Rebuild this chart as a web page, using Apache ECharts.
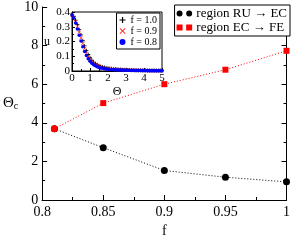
<!DOCTYPE html>
<html><head><meta charset="utf-8">
<script src="https://cdn.jsdelivr.net/npm/echarts@6/dist/echarts.min.js"></script>
<style>html,body{margin:0;padding:0;background:#fff}#c{width:293px;height:243px}</style>
</head><body><div id="c"></div>
<script>
// Main chart data
const fValues = [0.81, 0.85, 0.9, 0.95, 1.0];
const ruToEc = [3.69, 2.71, 1.53, 1.18, 0.94];
const ecToFe = [3.69, 5.02, 6.0, 6.75, 7.73];

// Inset data (Theta from 0 to 5, step 0.1)
const theta = [0,0.1,0.2,0.3,0.4,0.5,0.6,0.7,0.8,0.9,1.0,1.1,1.2,1.3,1.4,1.5,1.6,1.7,1.8,1.9,2.0,2.1,2.2,2.3,2.4,2.5,2.6,2.7,2.8,2.9,3.0,3.1,3.2,3.3,3.4,3.5,3.6,3.7,3.8,3.9,4.0,4.1,4.2,4.3,4.4,4.5,4.6,4.7,4.8,4.9,5.0];
const uF10 = [0.38,0.37,0.345,0.315,0.28,0.245,0.205,0.17,0.138,0.112,0.09,0.073,0.06,0.05,0.042,0.036,0.031,0.027,0.024,0.021,0.019,0.017,0.015,0.014,0.013,0.012,0.011,0.010,0.009,0.0085,0.008,0.0075,0.007,0.0065,0.006,0.0055,0.005,0.0048,0.0045,0.0042,0.004,0.0038,0.0036,0.0034,0.0032,0.003,0.0029,0.0028,0.0027,0.0026,0.0025];
const uF09 = [0.38,0.365,0.335,0.3,0.262,0.225,0.186,0.152,0.122,0.098,0.078,0.063,0.051,0.042,0.035,0.03,0.026,0.022,0.019,0.017,0.015,0.013,0.012,0.011,0.010,0.009,0.0085,0.008,0.0075,0.007,0.0065,0.006,0.0055,0.005,0.0047,0.0044,0.0041,0.0038,0.0036,0.0034,0.0032,0.003,0.0028,0.0027,0.0026,0.0025,0.0024,0.0023,0.0022,0.0021,0.002];
const uF08 = [0.38,0.36,0.325,0.285,0.243,0.203,0.165,0.132,0.105,0.083,0.066,0.053,0.043,0.035,0.029,0.024,0.021,0.018,0.016,0.014,0.012,0.011,0.010,0.009,0.008,0.0075,0.007,0.0065,0.006,0.0055,0.005,0.0047,0.0044,0.0041,0.0038,0.0036,0.0034,0.0032,0.003,0.0028,0.0027,0.0026,0.0025,0.0024,0.0023,0.0022,0.0021,0.002,0.0019,0.0018,0.0017];

const xTickLabels = ['0.8','0.85','0.9','0.95','1'];

const serif = '"Liberation Serif","DejaVu Serif",serif';
const pair = a => fValues.map((f,i)=>[f,a[i]]);
const pairT = a => theta.map((t,i)=>[t,a[i]]);
const plus = 'path://M4,0h2v4h4v2h-4v4h-2v-4h-4v-2h4z';
const cross = 'path://M1,0L5,4L9,0L10,1L6,5L10,9L9,10L5,6L1,10L0,9L4,5L0,1z';

const chart = echarts.init(document.getElementById('c'), null, {renderer:'canvas'});
const axisCommon = {
  axisLine:{show:true,onZero:false,lineStyle:{color:'#000',width:1}},
  splitLine:{show:false}
};
chart.setOption({
  animation:false,
  backgroundColor:'#fff',
  textStyle:{fontFamily:serif,color:'#000'},
  grid:[
    {left:35,right:4,top:6,bottom:34,show:false},
    {left:72,right:131,top:12,bottom:172,show:true,backgroundColor:'#fff',borderColor:'#000',borderWidth:1}
  ],
  xAxis:[
    Object.assign({},axisCommon,{gridIndex:0,type:'value',min:0.8,max:1,interval:0.05,
      axisTick:{inside:true,length:5,lineStyle:{color:'#000'}},
      minorTick:{show:true,splitNumber:2,length:3,lineStyle:{color:'#000'}},
      axisLabel:{fontSize:14,fontFamily:serif,color:'#000',margin:5,
        formatter:(v)=>{const i=Math.round((v-0.8)/0.05);return xTickLabels[i]!==undefined?xTickLabels[i]:'';}},
      name:'f',nameLocation:'middle',nameGap:24,nameTextStyle:{fontSize:14,fontFamily:serif,color:'#000'}}),
    {gridIndex:0,type:'value',min:0.8,max:1,position:'top',axisLine:{show:true,lineStyle:{color:'#000'}},axisTick:{show:false},axisLabel:{show:false},splitLine:{show:false}},
    Object.assign({},axisCommon,{gridIndex:1,type:'value',min:0,max:5,interval:1,
      axisTick:{inside:true,length:3,lineStyle:{color:'#000'}},
      minorTick:{show:true,splitNumber:2,length:2,lineStyle:{color:'#000'}},
      axisLabel:{fontSize:11,fontFamily:serif,color:'#000',margin:2},
      name:'Θ',nameLocation:'middle',nameGap:15,nameTextStyle:{fontSize:12,fontFamily:serif,color:'#000'}})
  ],
  yAxis:[
    Object.assign({},axisCommon,{gridIndex:0,type:'value',min:0,max:10,interval:2,
      axisTick:{inside:true,length:5,lineStyle:{color:'#000'}},
      minorTick:{show:true,splitNumber:2,length:3,lineStyle:{color:'#000'}},
      axisLabel:{fontSize:14,fontFamily:serif,color:'#000',margin:4},
      name:'{a|Θ}{b|c}',nameLocation:'middle',nameGap:20,nameRotate:0,
      nameTextStyle:{rich:{a:{fontSize:15,fontFamily:serif,color:'#000'},b:{fontSize:10,fontFamily:serif,color:'#000',verticalAlign:'bottom',padding:[6,0,0,0]}}}}),
    {gridIndex:0,type:'value',min:0,max:10,interval:2,position:'right',
      axisLine:{show:true,lineStyle:{color:'#000'}},
      axisTick:{inside:true,length:5,lineStyle:{color:'#000'}},
      minorTick:{show:true,splitNumber:2,length:3,lineStyle:{color:'#000'}},
      axisLabel:{show:false},splitLine:{show:false}},
    Object.assign({},axisCommon,{gridIndex:1,type:'value',min:0,max:0.4,interval:0.1,
      axisTick:{inside:true,length:3,lineStyle:{color:'#000'}},
      minorTick:{show:true,splitNumber:2,length:2,lineStyle:{color:'#000'}},
      axisLabel:{fontSize:11,fontFamily:serif,color:'#000',margin:2,formatter:v=>v===0?'0':String(+v.toFixed(1))},
      name:'u',nameLocation:'middle',nameGap:22,nameRotate:0,nameTextStyle:{fontSize:12,fontFamily:serif,color:'#000'}})
  ],
  legend:[
    {right:3,top:5,orient:'vertical',itemGap:1,itemWidth:18,itemHeight:6,
     backgroundColor:'#fff',borderColor:'#000',borderWidth:1,borderRadius:0,padding:[2,3,2,2],
     textStyle:{fontSize:13,fontFamily:serif,color:'#000',padding:[0,0,0,-2]},
     data:[
       {name:'region RU → EC',icon:'path://M0,5a5,5 0 1,0 10,0a5,5 0 1,0 -10,0zM16,5a5,5 0 1,0 10,0a5,5 0 1,0 -10,0z'},
       {name:'region EC → FE',icon:'path://M0,0h10v10h-10zM16,0h10v10h-10z'}
     ]},
    {right:133,top:13,orient:'vertical',itemGap:1,itemWidth:6,itemHeight:6,
     backgroundColor:'#fff',borderColor:'#000',borderWidth:1,borderRadius:0,padding:[2,3,2,3],
     textStyle:{fontSize:10,fontFamily:serif,color:'#000'},
     data:[{name:'f = 1.0',icon:plus},{name:'f = 0.9',icon:cross},{name:'f = 0.8',icon:'circle'}]}
  ],
  series:[
    {name:'region RU → EC',type:'line',xAxisIndex:0,yAxisIndex:0,data:pair(ruToEc),
     symbol:'circle',symbolSize:7,itemStyle:{color:'#000'},lineStyle:{color:'#000',width:1,type:[1,2]}},
    {name:'region EC → FE',type:'line',xAxisIndex:0,yAxisIndex:0,
     data:pair(ecToFe).map((p,i)=>({value:p,symbol:i===0?'circle':'rect',symbolSize:i===0?7:6})),
     itemStyle:{color:'#f00'},lineStyle:{color:'#f00',width:1,type:[1,2]}},
    {name:'f = 1.0',type:'line',xAxisIndex:2,yAxisIndex:2,data:pairT(uF10),symbol:plus,symbolSize:4,
     itemStyle:{color:'#000'},lineStyle:{width:0,opacity:0}},
    {name:'f = 0.9',type:'line',xAxisIndex:2,yAxisIndex:2,data:pairT(uF09),symbol:cross,symbolSize:3.5,
     itemStyle:{color:'#f00'},lineStyle:{width:0,opacity:0}},
    {name:'f = 0.8',type:'line',xAxisIndex:2,yAxisIndex:2,data:pairT(uF08),symbol:'circle',symbolSize:3.5,
     itemStyle:{color:'#00f'},lineStyle:{width:0,opacity:0}}
  ]
});
</script></body></html>
